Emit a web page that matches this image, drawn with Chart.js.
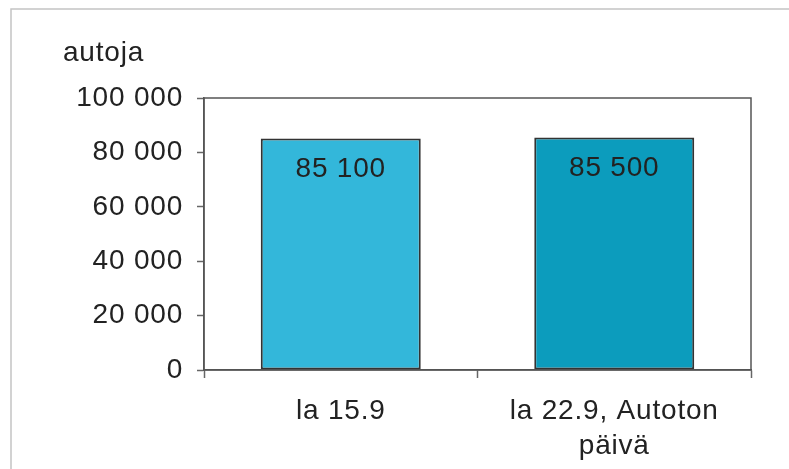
<!DOCTYPE html>
<html>
<head>
<meta charset="utf-8">
<script src="https://cdn.jsdelivr.net/npm/chart.js@4"></script>
<style>
html,body{margin:0;padding:0;background:#fff;}
#wrap{width:789px;height:469px;position:relative;}
</style>
</head>
<body>
<div id="wrap"><canvas id="c" width="789" height="469"></canvas></div>
<script>
const categories = [["la 15.9"], ["la 22.9, Autoton", "päivä"]];
const values = [85100, 85500];
const valueLabels = ["85 100", "85 500"];
const yTicks = [0, 20000, 40000, 60000, 80000, 100000];
const axisTitle = "autoja";
const barColors = ["#33B7DA", "#0C9CBD"];

const FONT = "'Liberation Sans', Arial, sans-serif";
const FSIZE = 28;
const SPACING = '0.8px';
const fmt = v => String(v).replace(/\B(?=(\d{3})+(?!\d))/g, " ");

const decor = {
  id: 'decor',
  beforeInit(chart) { chart.ctx.letterSpacing = SPACING; },
  beforeUpdate(chart) { chart.ctx.letterSpacing = SPACING; },
  beforeDraw(chart) {
    const ctx = chart.ctx;
    ctx.letterSpacing = SPACING;
    ctx.save();
    ctx.strokeStyle = '#c4c4c4';
    ctx.lineWidth = 1.5;
    ctx.beginPath();
    ctx.moveTo(11, 469);
    ctx.lineTo(11, 9);
    ctx.lineTo(789, 9);
    ctx.stroke();
    ctx.restore();
  },
  afterDatasetsDraw(chart) {
    const ctx = chart.ctx;
    const a = chart.chartArea;
    ctx.save();
    ctx.letterSpacing = SPACING;
    ctx.strokeStyle = '#555';
    ctx.lineWidth = 1.5;
    ctx.strokeRect(a.left, a.top, a.right - a.left, a.bottom - a.top);
    ctx.fillStyle = '#222';
    ctx.font = FSIZE + "px " + FONT;
    ctx.textAlign = 'center';
    ctx.textBaseline = 'middle';
    const meta = chart.getDatasetMeta(0);
    meta.data.forEach((bar, i) => {
      ctx.fillText(valueLabels[i], bar.x, bar.y + 31);
    });
    ctx.textAlign = 'left';
    ctx.fillText(axisTitle, 63, 53);
    ctx.restore();
  }
};

new Chart(document.getElementById('c'), {
  type: 'bar',
  data: {
    labels: categories,
    datasets: [{
      data: values,
      backgroundColor: barColors,
      borderColor: '#333',
      borderWidth: 2,
      borderSkipped: false,
      barPercentage: 0.585,
      categoryPercentage: 1
    }]
  },
  options: {
    responsive: false,
    animation: false,
    devicePixelRatio: 1,
    layout: { padding: { left: 0, top: 98, right: 38, bottom: 0 } },
    plugins: { legend: { display: false }, tooltip: { enabled: false } },
    scales: {
      x: {
        afterFit(s) { s.height = 99; },
        grid: { offset: true, drawOnChartArea: false, tickLength: 8, color: '#666', tickWidth: 1.5 },
        border: { display: true, color: '#555', width: 1.5 },
        ticks: { color: '#222', font: { family: FONT, size: FSIZE, lineHeight: 1.25 }, padding: 16, maxRotation: 0 }
      },
      y: {
        min: 0, max: 100000,
        afterFit(s) { s.width = 204; },
        afterBuildTicks(s) { s.ticks = yTicks.map(v => ({ value: v })); },
        grid: { drawOnChartArea: false, tickLength: 7, color: '#666', tickWidth: 1.5 },
        border: { display: true, color: '#555', width: 1.5 },
        ticks: { color: '#222', font: { family: FONT, size: FSIZE }, padding: 14, callback: v => fmt(v) }
      }
    }
  },
  plugins: [decor]
});
</script>
</body>
</html>
